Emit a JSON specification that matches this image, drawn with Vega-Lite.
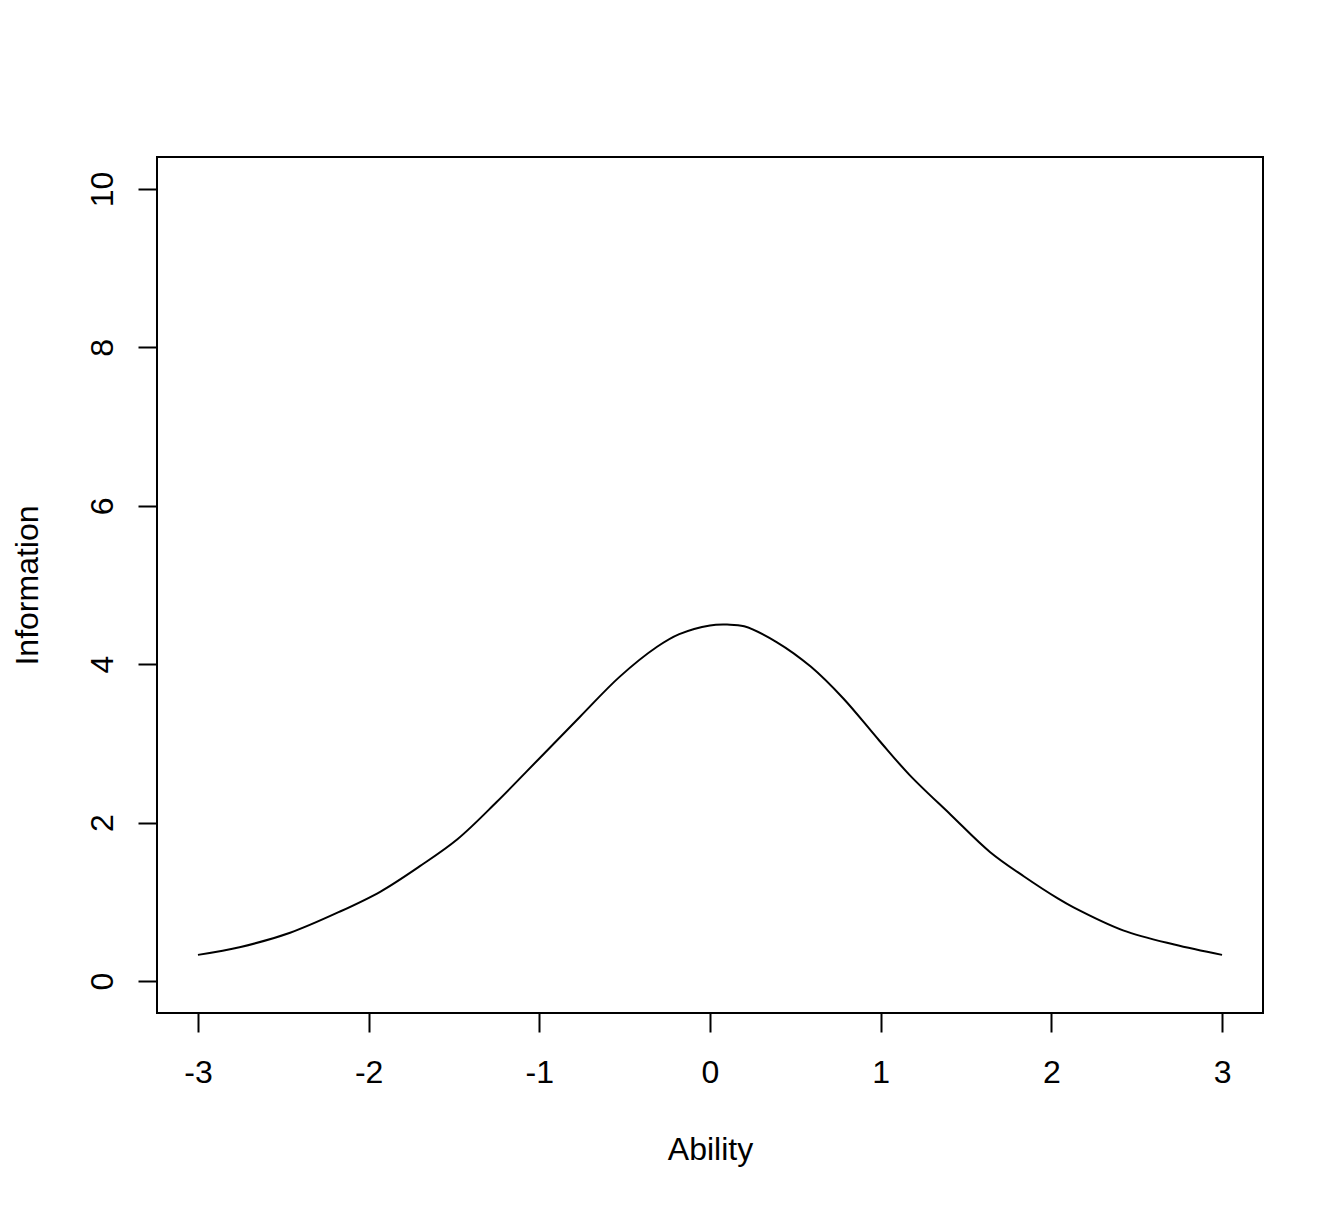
{
  "$schema": "https://vega.github.io/schema/vega-lite/v6.json",
  "width": 1106,
  "height": 856,
  "autosize": {"type": "none"},
  "padding": {"left": 157, "top": 157, "right": 81, "bottom": 196},
  "background": "white",
  "config": {
    "view": {"stroke": "black", "strokeWidth": 2},
    "font": "Liberation Sans"
  },
  "data": {
    "values": [
      {"ability": -3.0, "info": 0.33},
      {"ability": -2.75, "info": 0.43},
      {"ability": -2.46, "info": 0.61},
      {"ability": -2.17, "info": 0.875},
      {"ability": -1.93, "info": 1.13},
      {"ability": -1.7, "info": 1.45},
      {"ability": -1.48, "info": 1.79},
      {"ability": -1.25, "info": 2.26},
      {"ability": -1.0, "info": 2.81},
      {"ability": -0.76, "info": 3.34},
      {"ability": -0.53, "info": 3.84},
      {"ability": -0.31, "info": 4.22},
      {"ability": -0.18, "info": 4.38},
      {"ability": 0.0, "info": 4.49},
      {"ability": 0.1, "info": 4.5},
      {"ability": 0.2, "info": 4.48},
      {"ability": 0.39, "info": 4.28},
      {"ability": 0.59, "info": 3.97},
      {"ability": 0.78, "info": 3.57},
      {"ability": 0.99, "info": 3.04},
      {"ability": 1.17, "info": 2.6},
      {"ability": 1.41, "info": 2.1},
      {"ability": 1.64, "info": 1.63},
      {"ability": 1.84, "info": 1.32},
      {"ability": 2.04, "info": 1.04},
      {"ability": 2.13, "info": 0.93},
      {"ability": 2.42, "info": 0.64},
      {"ability": 2.72, "info": 0.46},
      {"ability": 3.0, "info": 0.33}
    ]
  },
  "mark": {"type": "line", "color": "black", "strokeWidth": 2, "interpolate": "catmull-rom"},
  "encoding": {
    "x": {
      "field": "ability",
      "type": "quantitative",
      "scale": {"domain": [-3.24, 3.24], "nice": false, "zero": false},
      "axis": {
        "values": [-3, -2, -1, 0, 1, 2, 3],
        "labelExpr": "datum.value < 0 ? '-' + abs(datum.value) : '' + datum.value",
        "title": "Ability",
        "grid": false,
        "domain": false,
        "ticks": true,
        "tickColor": "black",
        "tickWidth": 2,
        "tickSize": 19,
        "labelFont": "Liberation Sans",
        "labelFontSize": 32,
        "labelColor": "black",
        "labelBaseline": "alphabetic",
        "labelAlign": "center",
        "labelPadding": 50,
        "labelFlush": false,
        "labelOverlap": false,
        "titleFont": "Liberation Sans",
        "titleFontSize": 32,
        "titleFontWeight": "normal",
        "titleColor": "black",
        "titleAlign": "center",
        "titleBaseline": "alphabetic",
        "titleX": 553,
        "titleY": 146
      }
    },
    "y": {
      "field": "info",
      "type": "quantitative",
      "scale": {"domain": [-0.404, 10.404], "nice": false, "zero": false},
      "axis": {
        "values": [0, 2, 4, 6, 8, 10],
        "title": "Information",
        "grid": false,
        "domain": false,
        "ticks": true,
        "tickColor": "black",
        "tickWidth": 2,
        "tickSize": 19,
        "labelFont": "Liberation Sans",
        "labelFontSize": 32,
        "labelColor": "black",
        "labelAngle": 270,
        "labelAlign": "center",
        "labelBaseline": "alphabetic",
        "labelPadding": 26,
        "labelFlush": false,
        "labelOverlap": false,
        "titleFont": "Liberation Sans",
        "titleFontSize": 32,
        "titleFontWeight": "normal",
        "titleColor": "black",
        "titleAngle": 270,
        "titleAlign": "center",
        "titleBaseline": "alphabetic",
        "titleX": -120,
        "titleY": 428
      }
    }
  }
}
